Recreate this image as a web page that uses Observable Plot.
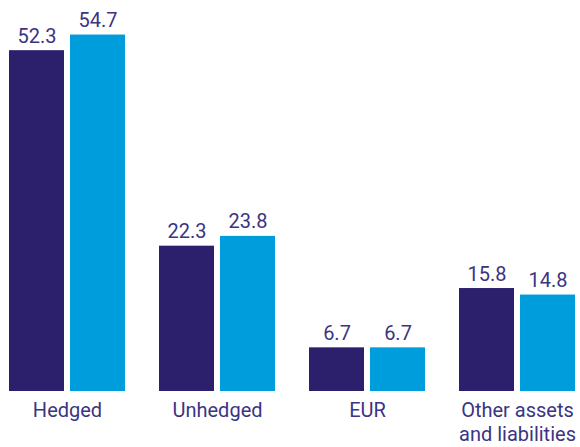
<!DOCTYPE html>
<html><head><meta charset="utf-8">
<script src="https://cdn.jsdelivr.net/npm/d3@7"></script>
<script src="https://cdn.jsdelivr.net/npm/@observablehq/plot@0.6"></script>
<style>body{margin:0;background:#fff}</style>
</head><body><div id="chart"></div>
<script>
const categories = ["Hedged", "Unhedged", "EUR", "Other assets\nand liabilities"];
const series = ["Previous", "Current"];
const previousValues = [52.3, 22.3, 6.7, 15.8];
const currentValues = [54.7, 23.8, 6.7, 14.8];
const seriesColors = ["#2c1f6b", "#009ddc"];

const data = categories.flatMap((c, i) => [
  {category: c, series: series[0], value: previousValues[i]},
  {category: c, series: series[1], value: currentValues[i]}
]);

const textColor = "#3b3482";
const chart = Plot.plot({
  width: 580,
  height: 447,
  marginLeft: 9,
  marginRight: 5,
  marginTop: 0,
  marginBottom: 56,
  style: {fontFamily: "Roboto, sans-serif", color: textColor, background: "#fff"},
  fx: {domain: categories, paddingInner: 34 / 150, paddingOuter: 0, label: null, axis: null},
  x: {domain: series, paddingInner: 6 / 61, paddingOuter: 0, axis: null},
  y: {domain: [0, 60], axis: null},
  color: {domain: series, range: seriesColors},
  marks: [
    Plot.barY(data, {fx: "category", x: "series", y: "value", fill: "series"}),
    Plot.text(data, {fx: "category", x: "series", y: "value", text: d => d.value.toFixed(1),
      lineAnchor: "bottom", dy: -8, fontSize: 20, fill: textColor}),
    Plot.axisFx({anchor: "bottom", tickSize: 0, tickPadding: 8, fontSize: 20, lineHeight: 1.22, label: null})
  ]
});
document.getElementById("chart").append(chart);
</script>
</body></html>
